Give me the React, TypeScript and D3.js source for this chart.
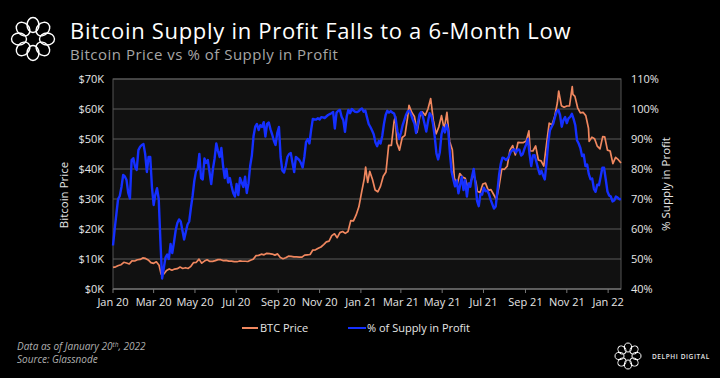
import React from "react";
import * as d3 from "d3";

const title = "Bitcoin Supply in Profit Falls to a 6-Month Low";
const subtitle = "Bitcoin Price vs % of Supply in Profit";
const leftAxisTitle = "Bitcoin Price";
const rightAxisTitle = "% Supply in Profit";
const seriesNames = ["BTC Price", "% of Supply in Profit"];

const priceDates = [
  "2020-01-01","2020-01-05","2020-01-09","2020-01-13","2020-01-17","2020-01-21","2020-01-25","2020-01-29",
  "2020-02-02","2020-02-06","2020-02-10","2020-02-14","2020-02-18","2020-02-22","2020-02-26","2020-03-01",
  "2020-03-05","2020-03-09","2020-03-12","2020-03-16","2020-03-20","2020-03-24","2020-03-28","2020-04-01",
  "2020-04-05","2020-04-09","2020-04-13","2020-04-17","2020-04-21","2020-04-25","2020-04-29","2020-05-03",
  "2020-05-07","2020-05-11","2020-05-15","2020-05-19","2020-05-23","2020-05-27","2020-05-31","2020-06-04",
  "2020-06-08","2020-06-12","2020-06-16","2020-06-20","2020-06-24","2020-06-28","2020-07-02","2020-07-06",
  "2020-07-10","2020-07-14","2020-07-18","2020-07-22","2020-07-26","2020-07-30","2020-08-03","2020-08-07",
  "2020-08-11","2020-08-15","2020-08-19","2020-08-23","2020-08-27","2020-08-31","2020-09-04","2020-09-08",
  "2020-09-12","2020-09-16","2020-09-20","2020-09-24","2020-09-28","2020-10-02","2020-10-06","2020-10-10",
  "2020-10-14","2020-10-18","2020-10-22","2020-10-26","2020-10-30","2020-11-03","2020-11-07","2020-11-11",
  "2020-11-15","2020-11-19","2020-11-23","2020-11-27","2020-12-01","2020-12-05","2020-12-09","2020-12-13",
  "2020-12-17","2020-12-21","2020-12-25","2020-12-29","2021-01-02","2021-01-06","2021-01-08","2021-01-11",
  "2021-01-14","2021-01-18","2021-01-22","2021-01-26","2021-01-30","2021-02-03","2021-02-07","2021-02-11",
  "2021-02-15","2021-02-19","2021-02-21","2021-02-23","2021-02-27","2021-03-03","2021-03-07","2021-03-11",
  "2021-03-13","2021-03-17","2021-03-21","2021-03-25","2021-03-29","2021-04-02","2021-04-06","2021-04-10",
  "2021-04-14","2021-04-18","2021-04-22","2021-04-26","2021-04-30","2021-05-04","2021-05-08","2021-05-12",
  "2021-05-16","2021-05-19","2021-05-23","2021-05-27","2021-05-31","2021-06-04","2021-06-08","2021-06-12",
  "2021-06-16","2021-06-20","2021-06-22","2021-06-26","2021-06-30","2021-07-04","2021-07-08","2021-07-12",
  "2021-07-16","2021-07-20","2021-07-24","2021-07-28","2021-08-01","2021-08-05","2021-08-09","2021-08-13",
  "2021-08-17","2021-08-21","2021-08-25","2021-08-29","2021-09-02","2021-09-06","2021-09-08","2021-09-12",
  "2021-09-16","2021-09-20","2021-09-24","2021-09-28","2021-10-02","2021-10-06","2021-10-10","2021-10-14",
  "2021-10-18","2021-10-20","2021-10-24","2021-10-28","2021-11-01","2021-11-05","2021-11-09","2021-11-10",
  "2021-11-13","2021-11-17","2021-11-21","2021-11-25","2021-11-29","2021-12-03","2021-12-04","2021-12-08",
  "2021-12-12","2021-12-16","2021-12-20","2021-12-24","2021-12-27","2021-12-31","2022-01-04","2022-01-08",
  "2022-01-12","2022-01-16","2022-01-20"
];

const priceValues = [
  7200,7400,7850,8100,8900,8650,8350,9380,
  9340,9750,9850,10350,10180,9700,8800,8550,
  9080,7900,4970,5000,6200,6700,6250,6640,
  6780,7300,6850,7100,6850,7550,8800,8900,
  9950,8600,9300,9730,9180,9200,9450,9800,
  9770,9470,9520,9300,9300,9100,9100,9350,
  9250,9250,9170,9600,9900,11100,11200,11600,
  11400,11900,11800,11650,11300,11700,10500,10100,
  10400,10950,10900,10700,10700,10600,10600,11300,
  11400,11500,12980,13050,13550,14000,14800,15700,
  15950,17800,18400,17100,18800,19150,18550,19150,
  22800,22700,24700,27400,32200,36800,40600,35500,
  39200,36600,33000,32400,34300,37600,39000,47900,
  47900,55900,57500,48800,46300,50500,51200,57300,
  61200,58900,57500,52300,57600,59000,57900,60000,
  63500,56200,51700,54000,57800,53200,58900,49200,
  46400,37000,34700,38500,37300,36900,33500,35600,
  38300,35500,32500,32200,35000,35300,32900,33100,
  31500,29800,34300,40000,39900,40900,46300,47800,
  44700,48900,48800,48800,49300,52700,46000,46000,
  47700,43000,42700,41000,48200,55300,54700,57400,
  62000,66000,61100,60600,61000,61000,67500,64900,
  64200,60400,58700,58900,57800,53600,49200,50600,
  50100,47600,46700,50800,50700,46300,46000,41800,
  43900,43100,42000
];

// % of supply in profit, one reading every 2.5 days from 2020-01-01
const supplyStart = "2020-01-01";
const supplyStepHours = 60;
const supplyValues = [
  54.5,60,65,70,71,74,78,77.5,76.3,72,70.2,83,83.6,80.8,79.7,86.3,87.4,88,88.3,85,79,84,84,74,68,
  71.5,73.6,70,56,43.5,47,50.5,51.5,50,55,52,55.5,59.5,62,63.2,62.5,59.5,56.5,59,61.5,62.5,67,71,76,79.2,
  80,85,77,76.5,83.5,82,83,79,75,80,83.5,88.5,86,84,87,81,77,80,75.5,77,74.3,72,70.8,75,71.3,
  77,75.5,74,77.4,72,75.2,81,84.5,91,94.1,95,93,94.6,94,95.6,90.8,95,95.5,93.2,91.5,89.4,88,92,94,84,
  79.5,78.8,81,84,85,85.3,82,79,84,83.5,83,82,80.5,84,89,90,88.5,93,96.7,96.5,96.5,96.9,96.5,97.3,97.2,
  97,97.5,98,98.3,98.6,99,93.5,98.8,99.4,99.7,97.4,96.3,92.4,97.4,99.7,98.6,100,99.5,99.1,99,99.2,99.8,100.2,99.1,99.5,
  97.2,95,94,92.8,91.5,88.8,87.6,89.4,88.5,91,95,98,99.4,98.8,99.3,98.8,98.5,96.5,92.5,90,92,94.5,96.2,98,99.2,
  99.4,98.2,96.5,95.2,92,95,98.2,99,97.5,95,92.5,95.8,98.6,97.8,95,90.8,85.2,83.2,85.6,91.6,93.9,92.2,94.8,92.7,85,
  79,76.5,74.2,76.2,71.9,74.7,77.4,73,76.3,70.8,75.2,74.1,77.4,80,75.5,69.4,67.6,71.7,71.5,73.8,72.6,72.8,71.7,69.8,68.3,
  66.8,67.5,72.5,78,81.7,83.8,83.6,83,83.5,84.5,85.8,86.3,86.6,85.5,86.5,86.4,84.5,85,86.8,88.2,90,85,81,84.5,84.6,
  82.4,80.2,78.3,79.4,77.8,76.5,82,88.6,92.8,94,95.1,97.3,99.1,99.7,98,94.1,96.3,97.3,95.3,96.9,97.4,98.4,96.7,94.6,89.6,
  88.5,87,84.3,84.8,81,81.5,78.3,76.6,76.8,73.4,72.4,74.8,74.6,77.5,80.4,80.4,76.5,72.5,71.2,70.8,69.2,69.5,70.8,70.5,69.9,70
];

const xDomain = ["2020-01-01", "2022-01-20"];
const leftTicks = [0, 10000, 20000, 30000, 40000, 50000, 60000, 70000];
const rightTicks = [40, 50, 60, 70, 80, 90, 100, 110];

const ORANGE = "#f0875f";
const BLUE = "#1530ff";
const FONT = "'Open Sans', 'Noto Sans', sans-serif";

const parse = d3.timeParse("%Y-%m-%d");

function Logo({ cx, cy, R, r, sw }: { cx: number; cy: number; R: number; r: number; sw: number }) {
  const n = 8;
  const items = d3.range(n).map((i) => {
    const a = (i / n) * Math.PI * 2 - Math.PI / 2;
    return { x: cx + R * Math.cos(a), y: cy + R * Math.sin(a), deg: (a * 180) / Math.PI };
  });
  return (
    <g fill="none" stroke="#ffffff" strokeWidth={sw}>
      {items.map((p, i) => (
        <ellipse key={i} cx={p.x} cy={p.y} rx={r * 0.8} ry={r} transform={`rotate(${p.deg + 90} ${p.x} ${p.y})`} />
      ))}
    </g>
  );
}

export default function App() {
  const W = 720, H = 378;
  const left = 113, right = 621, top = 79, bottom = 289;

  const x = d3.scaleTime().domain(xDomain.map((d) => parse(d) as Date)).range([left, right]);
  const yL = d3.scaleLinear().domain([0, 70000]).range([bottom, top]);
  const yR = d3.scaleLinear().domain([40, 110]).range([bottom, top]);

  const priceData = priceDates.map((d, i) => ({ date: parse(d) as Date, v: priceValues[i] }));
  const start = parse(supplyStart) as Date;
  const supplyData = supplyValues.map((v, i) => ({ date: d3.timeHour.offset(start, i * supplyStepHours), v }));

  const priceLine = d3.line<{ date: Date; v: number }>().x((d) => x(d.date)).y((d) => yL(d.v));
  const supplyLine = d3.line<{ date: Date; v: number }>().x((d) => x(d.date)).y((d) => yR(d.v));

  const xTicks = d3.timeMonth.every(2)!.range(parse("2020-01-01") as Date, parse("2022-01-02") as Date);
  const fmtX = d3.timeFormat("%b %y");

  return (
    <svg width={W} height={H} style={{ display: "block", position: "absolute", left: 0, top: 0, background: "#000" }}>
      <rect x={0} y={0} width={W} height={H} fill="#000" />
      <Logo cx={33} cy={39} R={14} r={7.5} sw={1.4} />
      <text x={70} y={39} fill="#ffffff" fontFamily={FONT} fontSize={22} fontWeight={500} letterSpacing={0.7}>{title}</text>
      <text x={70} y={60} fill="#a6a6a6" fontFamily={FONT} fontSize={15} letterSpacing={0.5}>{subtitle}</text>

      <rect x={left} y={top} width={right - left} height={bottom - top} fill="#111111" stroke="#555" strokeWidth={1} />
      {leftTicks.map((t) => (
        <line key={"g" + t} x1={left} x2={right} y1={yL(t)} y2={yL(t)} stroke="#5a5a5a" strokeWidth={1} />
      ))}
      {xTicks.map((t, i) => (
        <g key={"x" + i}>
          <line x1={x(t)} x2={x(t)} y1={bottom} y2={bottom + 4} stroke="#777" strokeWidth={1} />
          <text x={x(t)} y={306} textAnchor="middle" fill="#e6e6e6" fontFamily={FONT} fontSize={11}>{fmtX(t)}</text>
        </g>
      ))}
      <line x1={left} x2={right} y1={bottom} y2={bottom} stroke="#777" strokeWidth={1} />
      {leftTicks.map((t) => (
        <text key={"l" + t} x={104} y={yL(t) + 4} textAnchor="end" fill="#e6e6e6" fontFamily={FONT} fontSize={11}>
          {"$" + t / 1000 + "K"}
        </text>
      ))}
      {rightTicks.map((t) => (
        <text key={"r" + t} x={631} y={yR(t) + 4} fill="#e6e6e6" fontFamily={FONT} fontSize={11}>
          {t + "%"}
        </text>
      ))}
      <text transform="translate(68,195) rotate(-90)" textAnchor="middle" fill="#e6e6e6" fontFamily={FONT} fontSize={11.5}>{leftAxisTitle}</text>
      <text transform="translate(670,184) rotate(-90)" textAnchor="middle" fill="#e6e6e6" fontFamily={FONT} fontSize={11.5}>{rightAxisTitle}</text>

      <path d={priceLine(priceData) || ""} fill="none" stroke={ORANGE} strokeWidth={1.7} strokeLinejoin="round" />
      <path d={supplyLine(supplyData) || ""} fill="none" stroke={BLUE} strokeWidth={2.4} strokeLinejoin="round" />

      <line x1={242} x2={258} y1={328} y2={328} stroke={ORANGE} strokeWidth={2} />
      <text x={260} y={332} fill="#e6e6e6" fontFamily={FONT} fontSize={11}>{seriesNames[0]}</text>
      <line x1={348} x2={366} y1={328} y2={328} stroke={BLUE} strokeWidth={2} />
      <text x={367} y={332} fill="#e6e6e6" fontFamily={FONT} fontSize={11}>{seriesNames[1]}</text>

      <text x={17} y={350} fill="#b0b0b0" fontFamily={FONT} fontSize={10} fontStyle="italic">
        Data as of January 20<tspan dy={-3} fontSize={6.5}>th</tspan><tspan dy={3}>, 2022</tspan>
      </text>
      <text x={17} y={363} fill="#b0b0b0" fontFamily={FONT} fontSize={10} fontStyle="italic">Source: Glassnode</text>

      <Logo cx={628} cy={356} R={8.5} r={4.5} sw={1} />
      <text x={652} y={359} fill="#e6e6e6" fontFamily={FONT} fontSize={6.5} fontWeight={600} letterSpacing={0.6}>DELPHI DIGITAL</text>
    </svg>
  );
}
